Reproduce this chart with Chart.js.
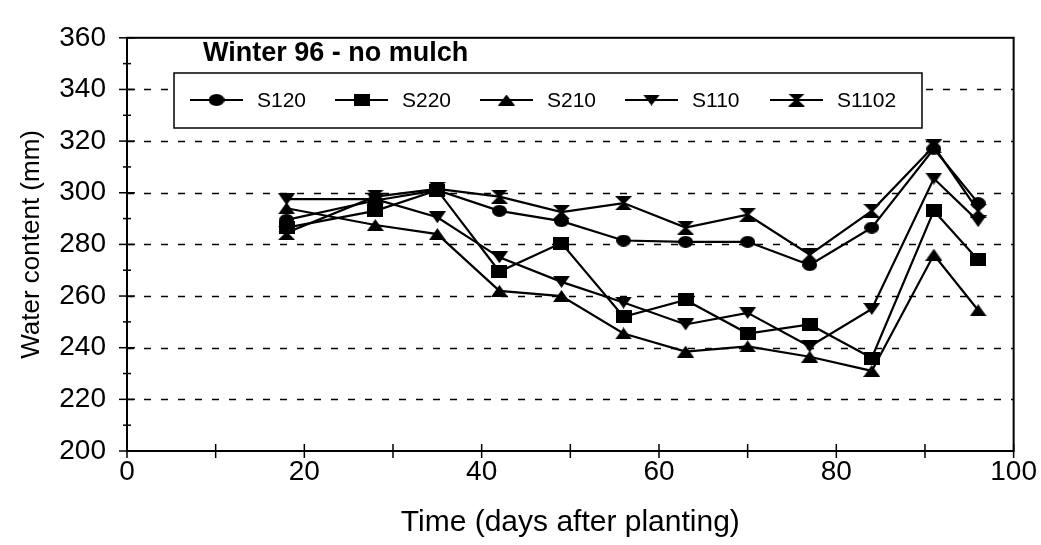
<!DOCTYPE html>
<html><head><meta charset="utf-8">
<script src="https://cdn.jsdelivr.net/npm/chart.js@4.4.1/dist/chart.umd.min.js"></script>
<style>html,body{margin:0;padding:0;background:#fff;}canvas{display:block;}</style>
</head><body>
<canvas id="c" width="1041" height="545"></canvas>
<script>
// ---- data ----
const days  = [18, 28, 35, 42, 49, 56, 63, 70, 77, 84, 91, 96];
const s120  = [289.5, 297, 301, 293, 289, 281.5, 281, 281, 272, 286.5, 317, 296];
const s220  = [286.5, 293, 301, 269.5, 280.5, 252, 258.5, 245.5, 249, 236, 293, 274];
const s210  = [294, 287.5, 284, 262, 260, 245.5, 238.5, 240.5, 236.5, 231, 276, 254.5];
const s110  = [297.5, 297.5, 290.5, 275, 265.5, 257.5, 249, 253.5, 240.5, 255, 305.5, 289];
const s1102 = [284.5, 298.5, 301.5, 298.5, 292.5, 296, 286.5, 291.5, 276, 293, 318, 293];
const seriesNames = ['S120', 'S220', 'S210', 'S110', 'S1102'];
const xTickValues = [0, 20, 40, 60, 80, 100];
const yTickValues = [200, 220, 240, 260, 280, 300, 320, 340, 360];
const gridValues  = [220, 240, 260, 280, 300, 320, 340];
const chartTitle = 'Winter 96 - no mulch';
const xTitle = 'Time (days after planting)';
const yTitle = 'Water content (mm)';

const FONT = "'Liberation Sans', Arial, sans-serif";

function marker(type, w, h) {
  const c = document.createElement('canvas');
  c.width = w; c.height = h;
  const g = c.getContext('2d');
  g.fillStyle = '#000';
  g.beginPath();
  if (type === 'ellipse') {
    g.ellipse(w / 2, h / 2, w / 2, h / 2, 0, 0, Math.PI * 2);
  } else if (type === 'rect') {
    g.rect(0, 0, w, h);
  } else if (type === 'up') {
    g.moveTo(w / 2, 0); g.lineTo(w, h); g.lineTo(0, h); g.closePath();
  } else if (type === 'down') {
    g.moveTo(0, 0); g.lineTo(w, 0); g.lineTo(w / 2, h); g.closePath();
  } else if (type === 'hourglass') {
    g.moveTo(0, 0); g.lineTo(w, 0); g.lineTo(w / 2 + 1.5, h / 2); g.lineTo(w, h);
    g.lineTo(0, h); g.lineTo(w / 2 - 1.5, h / 2); g.closePath();
  }
  g.fill();
  return c;
}
const markers = [
  marker('ellipse', 15, 12),
  marker('rect', 16, 13),
  marker('up', 17, 12),
  marker('down', 17, 12),
  marker('hourglass', 17, 14)
];
const legendMarkers = [
  marker('ellipse', 16, 12),
  marker('rect', 16, 12),
  marker('up', 17, 11),
  marker('down', 17, 11),
  marker('hourglass', 17, 13)
];

const seriesValues = [s120, s220, s210, s110, s1102];
const datasets = seriesValues.map((vals, i) => ({
  label: seriesNames[i],
  data: days.map((d, j) => ({ x: d, y: vals[j] })),
  borderColor: '#000',
  backgroundColor: '#000',
  borderWidth: 2.2,
  pointStyle: markers[i],
  pointRadius: 8,
  pointHoverRadius: 8,
  tension: 0,
  fill: false
}));

const decor = {
  id: 'decor',
  beforeDatasetsDraw(chart) {
    const ctx = chart.ctx;
    const { left, right, top, bottom } = chart.chartArea;
    const ys = chart.scales.y, xs = chart.scales.x;
    ctx.save();
    ctx.strokeStyle = '#000';
    ctx.lineWidth = 1.5;
    ctx.setLineDash([7, 10]);
    gridValues.forEach(v => {
      const py = Math.round(ys.getPixelForValue(v)) + 0.5;
      ctx.beginPath(); ctx.moveTo(left, py); ctx.lineTo(right, py); ctx.stroke();
    });
    ctx.setLineDash([]);
    ctx.lineWidth = 2;
    ctx.strokeRect(left, top, right - left, bottom - top);
    ctx.lineWidth = 1.5;
    for (let v = 200; v <= 360; v += 10) {
      const py = ys.getPixelForValue(v);
      const len = (v % 20 === 0) ? 8 : 4;
      ctx.beginPath(); ctx.moveTo(left - len, py); ctx.lineTo(left + len, py); ctx.stroke();
    }
    for (let v = 0; v <= 100; v += 10) {
      const px = xs.getPixelForValue(v);
      ctx.beginPath(); ctx.moveTo(px, bottom - 7); ctx.lineTo(px, bottom + 7); ctx.stroke();
    }
    ctx.restore();
  },
  afterDatasetsDraw(chart) {
    const ctx = chart.ctx;
    ctx.save();
    ctx.fillStyle = '#000';
    ctx.font = 'bold 27px ' + FONT;
    ctx.textBaseline = 'alphabetic';
    ctx.textAlign = 'left';
    ctx.fillText(chartTitle, 203, 61);
    ctx.fillStyle = '#fff';
    ctx.fillRect(174, 73, 748, 55);
    ctx.strokeStyle = '#000';
    ctx.lineWidth = 1.5;
    ctx.strokeRect(174, 73, 748, 55);
    ctx.font = '21px ' + FONT;
    ctx.textBaseline = 'middle';
    const ly = 100;
    seriesNames.forEach((name, i) => {
      const lx = 190 + 145 * i;
      ctx.lineWidth = 2;
      ctx.beginPath(); ctx.moveTo(lx, ly); ctx.lineTo(lx + 53, ly); ctx.stroke();
      const m = legendMarkers[i];
      ctx.drawImage(m, lx + 26.5 - m.width / 2, ly - m.height / 2);
      ctx.fillStyle = '#000';
      ctx.fillText(name, lx + 67, ly + 1);
    });
    ctx.restore();
  }
};

new Chart(document.getElementById('c'), {
  type: 'line',
  data: { datasets },
  options: {
    responsive: false,
    animation: false,
    layout: { padding: { top: 26, right: 23, left: 0, bottom: 0 } },
    plugins: { legend: { display: false }, tooltip: { enabled: false } },
    scales: {
      x: {
        type: 'linear', min: 0, max: 100,
        afterFit(s) { s.height = 94; },
        afterBuildTicks(s) { s.ticks = xTickValues.map(v => ({ value: v })); },
        grid: { display: false, drawTicks: false },
        border: { display: false },
        ticks: { color: '#000', font: { family: FONT, size: 28 }, padding: 4, maxRotation: 0, autoSkip: false },
        title: { display: true, text: xTitle, color: '#000', font: { family: FONT, size: 30 }, padding: { top: 0, bottom: 4 } }
      },
      y: {
        type: 'linear', min: 200, max: 360,
        afterFit(s) { s.width = 127; },
        afterBuildTicks(s) { s.ticks = yTickValues.map(v => ({ value: v })); },
        grid: { display: false, drawTicks: false },
        border: { display: false },
        ticks: { color: '#000', font: { family: FONT, size: 28 }, padding: 21 },
        title: { display: true, text: yTitle, color: '#000', font: { family: FONT, size: 26 }, padding: { top: 16, bottom: 0 } }
      }
    }
  },
  plugins: [decor]
});
</script>
</body></html>
